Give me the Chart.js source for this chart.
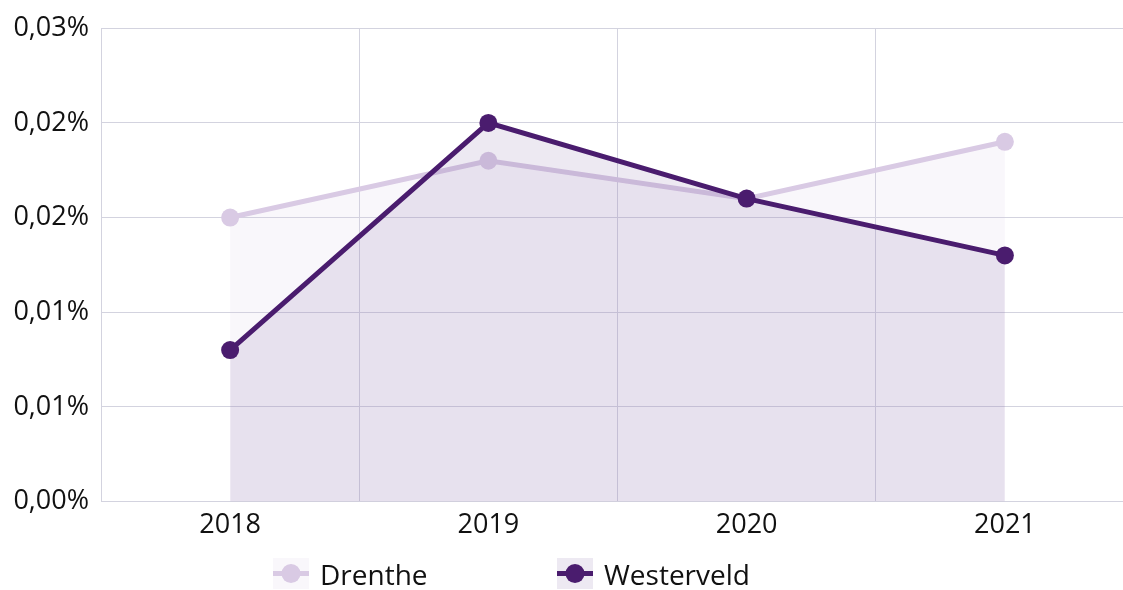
<!DOCTYPE html>
<html>
<head>
<meta charset="utf-8">
<script src="https://cdn.jsdelivr.net/npm/chart.js@4"></script>
<style>
    html, body { margin: 0; padding: 0; background: #fff; overflow: hidden; }
    #wrap { position: relative; width: 1143px; height: 590px; }
    #legend { font-family: 'Open Sans', sans-serif; font-size: 28px; color: #111; }
    .item { position: absolute; top: 558px; display: flex; align-items: center; height: 31px; }
    .swatch { margin-right: 11px; }
</style>
</head>
<body>
<div id="wrap">
    <canvas id="chart" width="1143" height="590"></canvas>
    <div id="legend"></div>
</div>
<script>
    const years = ['2018', '2019', '2020', '2021'];
    const drenthe = [0.018, 0.0216, 0.0192, 0.0228];
    const westerveld = [0.0096, 0.024, 0.0192, 0.0156];
    const yTickLabels = ['0,00%', '0,01%', '0,01%', '0,02%', '0,02%', '0,03%'];

    const lightPurple = '#d9cae4';
    const darkPurple = '#4a1c6e';
    const gridColor = '#d3d3df';

    const datasets = [
        {
            label: 'Drenthe',
            data: drenthe,
            order: 1,
            borderColor: lightPurple,
            pointBackgroundColor: lightPurple,
            pointBorderColor: lightPurple,
            backgroundColor: 'rgba(217, 202, 228, 0.15)',
            fill: 'origin'
        },
        {
            label: 'Westerveld',
            data: westerveld,
            order: 0,
            borderColor: darkPurple,
            pointBackgroundColor: darkPurple,
            pointBorderColor: darkPurple,
            backgroundColor: 'rgba(79, 37, 131, 0.1)',
            fill: 'origin'
        }
    ];

    const ctx = document.getElementById('chart').getContext('2d');
    const chart = new Chart(ctx, {
        type: 'line',
        data: {
            labels: years,
            datasets: datasets.map(d => Object.assign({
                borderWidth: 5,
                pointRadius: 9,
                pointHoverRadius: 9,
                pointBorderWidth: 0,
                tension: 0
            }, d))
        },
        options: {
            responsive: false,
            animation: false,
            layout: { padding: { top: 11, bottom: 40, right: 0, left: 0 } },
            scales: {
                x: {
                    offset: true,
                    grid: { color: gridColor, offset: true, drawTicks: false },
                    border: { color: gridColor },
                    ticks: {
                        color: '#111',
                        padding: 8,
                        font: { family: 'Open Sans', size: 27 }
                    }
                },
                y: {
                    min: 0,
                    max: 0.03,
                    grid: { color: gridColor, drawTicks: false },
                    border: { color: gridColor },
                    afterFit: scale => { scale.width = 101; },
                    ticks: {
                        stepSize: 0.006,
                        color: '#111',
                        padding: 12,
                        font: { family: 'Open Sans', size: 27 },
                        callback: (value, index) => yTickLabels[index]
                    }
                }
            },
            plugins: {
                legend: { display: false },
                tooltip: { enabled: false }
            }
        }
    });

    // html legend built from the datasets
    const legendLeft = [273, 557];
    const legend = document.getElementById('legend');
    datasets.forEach((d, i) => {
        const item = document.createElement('div');
        item.className = 'item';
        item.style.left = legendLeft[i] + 'px';
        const sw = document.createElement('canvas');
        sw.className = 'swatch';
        sw.width = 36;
        sw.height = 31;
        const c = sw.getContext('2d');
        c.fillStyle = d.backgroundColor;
        c.fillRect(0, 0, 36, 31);
        c.strokeStyle = d.borderColor;
        c.lineWidth = 5;
        c.beginPath();
        c.moveTo(0, 15.5);
        c.lineTo(36, 15.5);
        c.stroke();
        c.fillStyle = d.borderColor;
        c.beginPath();
        c.arc(18, 15.5, 9.5, 0, Math.PI * 2);
        c.fill();
        const txt = document.createElement('span');
        txt.textContent = d.label;
        item.appendChild(sw);
        item.appendChild(txt);
        legend.appendChild(item);
    });
</script>
</body>
</html>
